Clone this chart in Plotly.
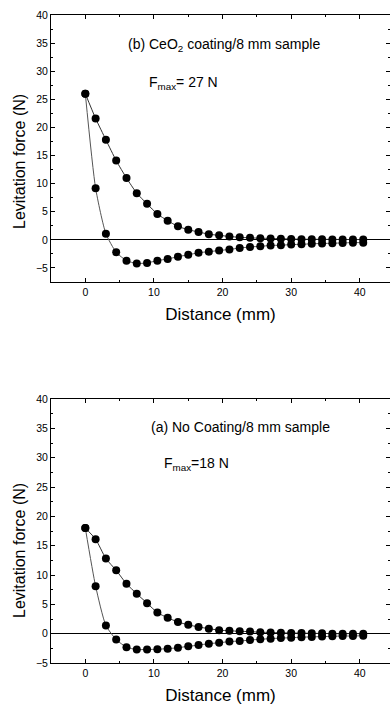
import plotly.graph_objects as go

# ---------------- data ----------------
dist = [0, 1.5, 3, 4.5, 6, 7.5, 9, 10.5, 12, 13.5, 15, 16.5, 18, 19.5, 21, 22.5,
        24, 25.5, 27, 28.5, 30, 31.5, 33, 34.5, 36, 37.5, 39, 40.5]

# (b) CeO2 coating
b_approach = [26.0, 21.6, 17.8, 14.1, 11.0, 8.3, 6.4, 4.6, 3.4, 2.4, 1.8, 1.4, 1.0, 0.8,
              0.6, 0.45, 0.35, 0.3, 0.25, 0.2, 0.15, 0.12, 0.1, 0.1, 0.08, 0.06, 0.05, 0.05]
b_return = [26.0, 9.2, 1.1, -2.2, -3.7, -4.2, -4.1, -3.7, -3.4, -3.0, -2.65, -2.3, -2.1, -1.9,
            -1.7, -1.45, -1.27, -1.15, -1.0, -0.95, -0.85, -0.8, -0.7, -0.65, -0.6, -0.55, -0.5, -0.5]

# (a) No coating
a_approach = [18.0, 16.1, 12.8, 10.8, 8.5, 6.8, 5.2, 3.6, 2.7, 2.0, 1.5, 1.15, 0.85, 0.6,
              0.5, 0.4, 0.35, 0.25, 0.2, 0.15, 0.1, 0.1, 0.05, 0.05, 0.0, 0.0, 0.0, 0.0]
a_return = [18.0, 8.1, 1.4, -1.0, -2.3, -2.7, -2.7, -2.65, -2.55, -2.4, -2.15, -1.95, -1.7, -1.55,
            -1.35, -1.25, -1.1, -0.95, -0.85, -0.75, -0.7, -0.6, -0.55, -0.5, -0.45, -0.4, -0.4, -0.35]

x_ticks = [0, 10, 20, 30, 40]
y_ticks = [-5, 0, 5, 10, 15, 20, 25, 30, 35, 40]

FONT = "Liberation Sans, Arial, sans-serif"
W, H = 390, 705

fig = go.Figure()

def add_panel(approach, ret, xa, ya):
    fig.add_trace(go.Scatter(x=dist, y=ret, xaxis=xa, yaxis=ya, mode="lines+markers",
                             line=dict(color="#555555", width=1, shape="spline", smoothing=0.6),
                             marker=dict(color="black", size=8), showlegend=False))
    fig.add_trace(go.Scatter(x=dist, y=approach, xaxis=xa, yaxis=ya, mode="lines+markers",
                             line=dict(color="#333333", width=1, shape="spline", smoothing=0.6),
                             marker=dict(color="black", size=8), showlegend=False))

add_panel(b_approach, b_return, "x", "y")
add_panel(a_approach, a_return, "x2", "y2")

def px_y(p):
    return 1 - p / H

def px_x(p):
    return (p - 51) / (W - 51)

common_x = dict(range=[-5, 44.4], tickvals=x_ticks, showline=True, linecolor="black", linewidth=1,
                mirror="ticks", ticks="inside", ticklen=4, tickcolor="black", showgrid=False,
                zeroline=False, automargin=False, tickfont=dict(family=FONT, size=10.5, color="black"),
                minor=dict(dtick=5, ticks="inside", ticklen=2, tickcolor="black"),
                title=dict(text="Distance (mm)", font=dict(family=FONT, size=17, color="black"), standoff=11))
common_y = dict(tickvals=y_ticks, showline=True, linecolor="black", linewidth=1,
                mirror="ticks", ticks="inside", ticklen=4, tickcolor="black", showgrid=False,
                zeroline=True, zerolinecolor="black", zerolinewidth=1, automargin=False,
                tickfont=dict(family=FONT, size=10.5, color="black"),
                minor=dict(dtick=2.5, ticks="inside", ticklen=2, tickcolor="black"))

ytitle_font = dict(family=FONT, size=16, color="black")
ann_font = dict(family=FONT, size=14, color="black")

fig.update_layout(
    width=W, height=H,
    margin=dict(l=51, r=0, t=0, b=0, autoexpand=False),
    paper_bgcolor="white", plot_bgcolor="white",
    xaxis=dict(common_x, domain=[0, 1], anchor="y"),
    yaxis=dict(common_y, range=[-7.5, 40], domain=[px_y(282), px_y(15)], anchor="x"),
    xaxis2=dict(common_x, domain=[0, 1], anchor="y2"),
    yaxis2=dict(common_y, range=[-5, 40], domain=[px_y(663), px_y(399)], anchor="x2"),
    annotations=[
        dict(text="Levitation force (N)", xref="paper", yref="paper", x=px_x(19), y=px_y(162),
             textangle=-90, showarrow=False, xanchor="center", yanchor="middle", font=ytitle_font),
        dict(text="Levitation force (N)", xref="paper", yref="paper", x=px_x(19), y=px_y(551),
             textangle=-90, showarrow=False, xanchor="center", yanchor="middle", font=ytitle_font),
        dict(text="(b) CeO<sub>2</sub> coating/8 mm sample", xref="paper", yref="paper",
             x=px_x(224), y=px_y(45), showarrow=False, xanchor="center", yanchor="middle",
             font=ann_font),
        dict(text="F<sub>max</sub>= 27 N", xref="paper", yref="paper",
             x=px_x(147), y=px_y(83), showarrow=False, xanchor="left", yanchor="middle",
             font=ann_font),
        dict(text="(a) No Coating/8 mm sample", xref="paper", yref="paper",
             x=px_x(240), y=px_y(427), showarrow=False, xanchor="center", yanchor="middle",
             font=ann_font),
        dict(text="F<sub>max</sub>=18 N", xref="paper", yref="paper",
             x=px_x(162), y=px_y(464), showarrow=False, xanchor="left", yanchor="middle",
             font=ann_font),
    ],
)

fig.write_html("out.html", config={"displayModeBar": False},
               post_script="document.body.style.margin='0';document.body.style.overflow='hidden';")
